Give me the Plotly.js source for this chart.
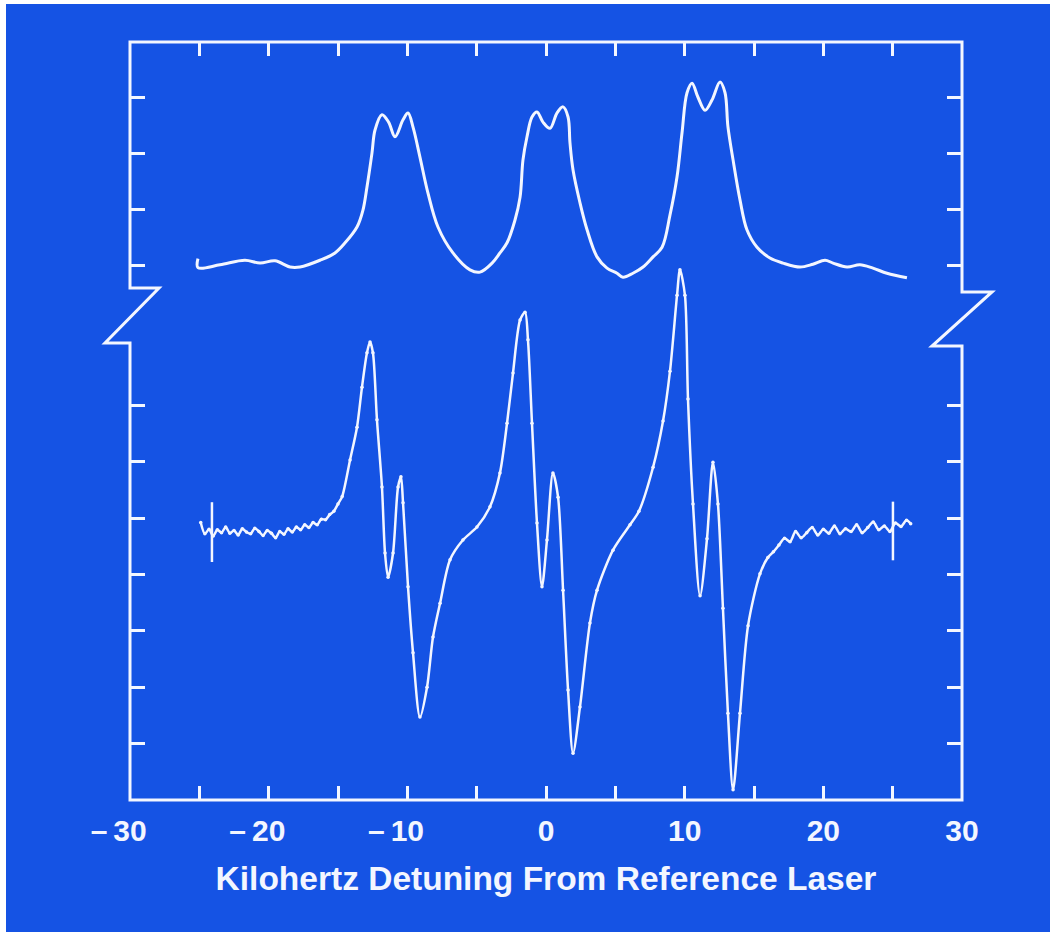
<!DOCTYPE html>
<html><head><meta charset="utf-8">
<script src="https://cdn.plot.ly/plotly-3.0.1.min.js"></script>
<style>
html,body{margin:0;padding:0;background:#ffffff;width:1055px;height:936px;overflow:hidden}
#chart{position:absolute;left:6px;top:4px;width:1044px;height:928px}
</style>
</head><body><div id="chart"></div>
<script>
// Upper trace: saturated absorption signal (arbitrary units)
const absX = [-25.10,-25.10,-23.51,-21.71,-20.62,-19.54,-18.46,-17.74,-16.30,-15.22,-14.49,-13.63,-13.20,-12.91,-12.55,-12.33,-11.83,-11.35,-10.89,-10.31,-9.95,-9.59,-9.09,-8.51,-7.79,-6.71,-5.48,-4.76,-3.89,-3.32,-2.81,-2.24,-1.87,-1.66,-1.37,-1.01,-0.65,-0.22,0.29,0.79,1.23,1.59,1.73,1.95,2.45,2.96,3.68,4.40,5.12,5.55,6.27,7.00,7.72,8.37,8.94,9.45,9.81,10.17,10.53,10.96,11.47,11.97,12.55,12.91,13.12,13.49,13.99,14.49,15.22,16.15,17.09,18.32,19.25,20.12,20.70,21.71,22.64,23.58,24.59,26.03];
const absY = [9.60,9.44,9.49,9.57,9.52,9.56,9.45,9.45,9.57,9.70,9.88,10.16,10.46,10.87,11.47,11.88,12.15,12.02,11.76,12.06,12.18,11.93,11.40,10.76,10.16,9.70,9.40,9.36,9.52,9.70,9.88,10.28,10.69,11.35,11.76,12.11,12.20,12.02,11.91,12.18,12.29,12.11,11.65,11.17,10.59,10.11,9.63,9.43,9.34,9.27,9.34,9.45,9.63,9.80,10.37,11.05,11.83,12.54,12.71,12.46,12.23,12.41,12.73,12.54,11.94,11.35,10.64,10.11,9.80,9.61,9.52,9.45,9.50,9.57,9.52,9.45,9.49,9.43,9.34,9.26];

// Lower trace: dispersion (derivative) signal with data points
const dispX = [-24.9,-24.6,-24.3,-24.0,-23.7,-23.4,-23.1,-22.8,-22.5,-22.2,-21.9,-21.6,-21.3,-21.0,-20.7,-20.4,-20.1,-19.8,-19.5,-19.2,-18.9,-18.6,-18.3,-18.0,-17.7,-17.4,-17.1,-16.8,-16.5,-16.2,-15.9,-15.6,-15.3,-15.0,-14.7,-14.13,-13.63,-13.27,-12.91,-12.69,-12.48,-12.19,-11.83,-11.61,-11.39,-11.03,-10.67,-10.46,-10.31,-9.95,-9.59,-9.09,-8.58,-8.15,-7.64,-6.92,-5.99,-4.98,-4.04,-3.32,-2.81,-2.38,-1.87,-1.51,-1.30,-1.01,-0.65,-0.29,0.07,0.50,0.87,1.23,1.59,1.95,2.45,3.17,3.68,4.83,6.06,6.70,7.72,8.44,8.94,9.45,9.66,10.02,10.24,10.60,11.11,11.61,12.04,12.40,12.76,13.12,13.49,13.99,14.57,15.43,16.0,16.4,16.8,17.2,17.6,18.0,18.4,18.8,19.2,19.6,20.0,20.4,20.8,21.2,21.6,22.0,22.4,22.8,23.2,23.6,24.0,24.4,24.8,25.2,25.6,26.0,26.3];
const dispY = [4.92,4.72,4.80,4.68,4.79,4.74,4.84,4.73,4.78,4.70,4.81,4.75,4.72,4.82,4.76,4.69,4.78,4.73,4.65,4.76,4.71,4.81,4.75,4.84,4.79,4.88,4.83,4.92,4.88,4.98,4.97,5.06,5.12,5.25,5.38,6.03,6.61,7.32,7.93,8.12,7.93,6.74,5.55,4.38,3.95,4.38,5.55,5.73,5.27,3.78,2.61,1.47,2.00,2.89,3.49,4.26,4.61,4.84,5.20,5.80,6.68,7.57,8.51,8.65,8.16,6.68,4.91,3.78,4.61,5.80,5.37,3.72,1.95,0.83,1.65,3.14,3.72,4.43,4.88,5.12,5.90,6.72,7.60,8.95,9.40,8.95,7.11,5.25,3.62,4.63,5.99,5.25,3.40,1.54,0.18,1.54,3.09,4.01,4.30,4.40,4.52,4.64,4.58,4.76,4.65,4.74,4.83,4.70,4.80,4.73,4.86,4.72,4.81,4.76,4.88,4.74,4.83,4.93,4.79,4.86,4.76,4.91,4.85,4.96,4.90];

// End markers on the lower trace
const markX = [-24.09, 25.02];
const markY = [4.75, 4.77];
const markHalf = [0.53, 0.52];

// Axis ticks
const xTickVals = [-30,-25,-20,-15,-10,-5,0,5,10,15,20,25,30];
const xTickText = ['\u2013\u200930\u2007\u2009','','\u2013\u200920\u2007\u2009','','\u2013\u200910\u2007\u2009','','0','','10','','20','','30'];
const yTickVals = [1,2,3,4,5,6,7,9.48,10.47,11.46,12.45];
const xTitle = 'Kilohertz Detuning From Reference Laser';

const BLUE = '#1553e4';
const WHITE = '#f3f6ff';
const FONT = 'Liberation Sans, Arial, sans-serif';

const traces = [
  {x: absX, y: absY, type: 'scatter', mode: 'lines',
   line: {color: WHITE, width: 3, shape: 'spline', smoothing: 1.0}, hoverinfo: 'skip'},
  {x: dispX, y: dispY, type: 'scatter', mode: 'lines+markers',
   line: {color: WHITE, width: 2.5, shape: 'spline', smoothing: 0.8},
   marker: {color: WHITE, size: 3.5}, hoverinfo: 'skip'},
  {x: markX, y: markY, type: 'scatter', mode: 'markers',
   marker: {size: 0.1, color: WHITE},
   error_y: {type: 'data', array: markHalf, visible: true, color: WHITE, thickness: 2.5, width: 0},
   hoverinfo: 'skip'}
];

const framePath = 'M0,0 L0,0.6029 L-0.03005,0.6029 L0.03486,0.6755 L0,0.6755 L0,1 L1,1 L1,0.6702 L1.03606,0.6702 L0.96394,0.5989 L1,0.5989 L1,0 Z';

const layout = {
  width: 1044, height: 928,
  margin: {l: 124, r: 88, t: 38, b: 132},
  paper_bgcolor: BLUE, plot_bgcolor: BLUE,
  showlegend: false,
  xaxis: {
    range: [-30, 30], tickmode: 'array', tickvals: xTickVals, ticktext: xTickText,
    ticks: 'inside', ticklen: 14, tickwidth: 3, tickcolor: WHITE,
    mirror: 'ticks', showline: false, showgrid: false, zeroline: false,
    tickangle: 0, ticklabelstandoff: 10,
    tickfont: {family: FONT, size: 30, color: WHITE, weight: 'bold'},
    title: {text: xTitle, standoff: 20, font: {family: FONT, size: 33.5, color: WHITE, weight: 'bold'}},
    fixedrange: true
  },
  yaxis: {
    range: [0, 13.44], tickmode: 'array', tickvals: yTickVals, showticklabels: false,
    ticks: 'inside', ticklen: 15, tickwidth: 3, tickcolor: WHITE,
    mirror: 'ticks', showline: false, showgrid: false, zeroline: false,
    fixedrange: true
  },
  shapes: [
    {type: 'path', xref: 'paper', yref: 'paper', path: framePath,
     line: {color: WHITE, width: 3}, fillcolor: 'rgba(0,0,0,0)', layer: 'above'}
  ]
};

Plotly.newPlot('chart', traces, layout, {displayModeBar: false, staticPlot: true});
</script>
</body></html>
